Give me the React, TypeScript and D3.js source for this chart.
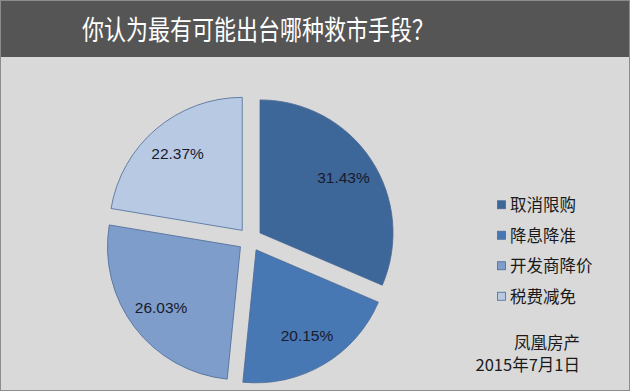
// @ts-nocheck
import React from "react";
import * as d3 from "d3";

const title = "你认为最有可能出台哪种救市手段？";
const categories = ["取消限购", "降息降准", "开发商降价", "税费减免"];
const values = [31.43, 20.15, 26.03, 22.37];
const colors = ["#3d6699", "#4878b4", "#7e9dca", "#b8c9e4"];
const sourceLines = ["凤凰房产", "2015年7月1日"];

const W = 630;
const H = 391;

const App = () => {
  const svgRef = React.useRef(null);

  React.useEffect(() => {
    const svg = d3.select(svgRef.current);
    svg.selectAll("*").remove();

    // background + border
    svg.append("rect")
      .attr("x", 0.5).attr("y", 0.5)
      .attr("width", W - 1).attr("height", H - 1)
      .attr("fill", "#d9d9d9")
      .attr("stroke", "#8c8c8c");

    // title band
    svg.append("rect")
      .attr("x", 1).attr("y", 1)
      .attr("width", W - 2).attr("height", 56)
      .attr("fill", "#555555");
    svg.append("text")
      .attr("x", 82).attr("y", 40)
      .attr("textLength", 352)
      .attr("lengthAdjust", "spacingAndGlyphs")
      .attr("fill", "#ffffff")
      .attr("font-family", "'Noto Sans CJK SC', sans-serif")
      .attr("font-size", 27)
      .text(title);

    // pie
    const cx = 250, cy = 239.5, r = 133, explode = 12;
    const pie = d3.pie().sort(null).value(d => d);
    const arcs = pie(values);
    const arc = d3.arc().innerRadius(0).outerRadius(r);
    const labelArc = d3.arc().innerRadius(100).outerRadius(100);

    const g = svg.append("g").attr("transform", `translate(${cx},${cy})`);
    const slices = g.selectAll("g.slice")
      .data(arcs)
      .enter()
      .append("g")
      .attr("transform", d => {
        const a = (d.startAngle + d.endAngle) / 2;
        return `translate(${Math.sin(a) * explode},${-Math.cos(a) * explode})`;
      });

    slices.append("path")
      .attr("d", arc)
      .attr("fill", (d, i) => colors[i])
      .attr("stroke", "#4a6a96")
      .attr("stroke-width", 0.8);

    slices.append("text")
      .attr("transform", d => `translate(${labelArc.centroid(d)})`)
      .attr("text-anchor", "middle")
      .attr("dy", "0.35em")
      .attr("fill", "#1a1a2a")
      .attr("font-family", "'Liberation Sans', Arial, sans-serif")
      .attr("font-size", 15.5)
      .text(d => d.data.toFixed(2) + "%");

    // legend
    const legendY = d3.scaleBand().domain(categories).range([190, 312]);
    const legend = svg.append("g");
    categories.forEach((c, i) => {
      const y = legendY(c) + legendY.bandwidth() / 2;
      legend.append("rect")
        .attr("x", 497.5).attr("y", y - 4.5)
        .attr("width", 8).attr("height", 8)
        .attr("fill", colors[i])
        .attr("stroke", "#4a6a96")
        .attr("stroke-width", 0.8);
      legend.append("text")
        .attr("x", 510).attr("y", y)
        .attr("dy", "0.35em")
        .attr("fill", "#1a1a1a")
        .attr("font-family", "'Noto Sans CJK SC', sans-serif")
        .attr("font-size", 16.5)
        .text(c);
    });

    // source
    sourceLines.forEach((s, i) => {
      svg.append("text")
        .attr("x", 580).attr("y", 343 + i * 22)
        .attr("dy", "0.35em")
        .attr("text-anchor", "end")
        .attr("fill", "#1a1a1a")
        .attr("font-family", "'Noto Sans CJK SC', sans-serif")
        .attr("font-size", 16.5)
        .text(s);
    });
  }, []);

  return (
    <svg
      ref={svgRef}
      width={W}
      height={H}
      style={{ position: "absolute", left: 0, top: 0 }}
    />
  );
};

export default App;
